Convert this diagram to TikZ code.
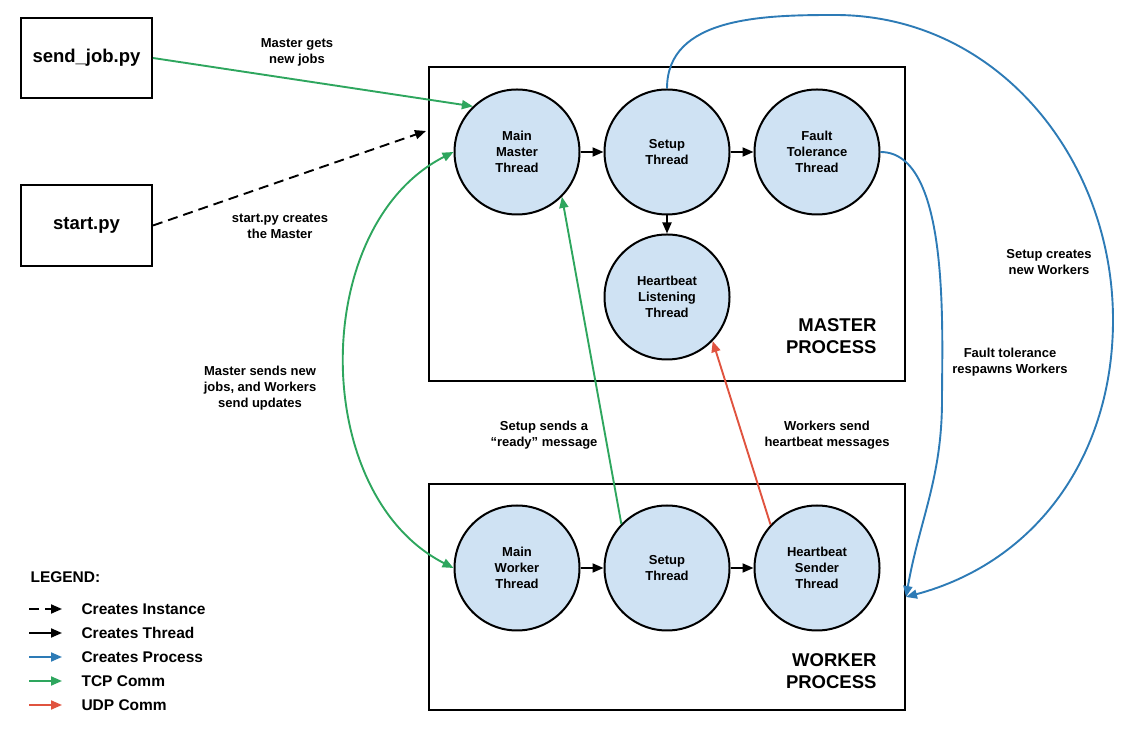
\documentclass[tikz,border=0pt]{standalone}
\usepackage{fontspec}
\setmainfont{Liberation Sans}
\usetikzlibrary{arrows.meta,positioning}
\definecolor{tcpgreen}{RGB}{46,166,94}
\definecolor{procblue}{RGB}{45,123,182}
\definecolor{udpred}{RGB}{224,83,63}
\definecolor{threadfill}{RGB}{207,226,243}

\begin{document}
\begin{tikzpicture}[x=1pt,y=1pt,on grid,node distance=150pt,
  >={Triangle[length=11pt,width=9pt]},
  thread/.style={circle,draw,line width=2pt,fill=threadfill,minimum size=125pt,inner sep=0pt,align=center,font=\bfseries\fontsize{13}{16}\selectfont},
  pybox/.style={rectangle,draw,line width=2pt,minimum width=131pt,minimum height=80pt,font=\bfseries\fontsize{18.5}{22}\selectfont},
  procbox/.style={rectangle,draw,line width=2pt,minimum width=476pt},
  proclbl/.style={anchor=east,align=right,font=\bfseries\fontsize{18.5}{22}\selectfont},
  lbl/.style={align=center,font=\bfseries\fontsize{13}{16}\selectfont},
  leg/.style={anchor=west,font=\bfseries\fontsize{15.5}{18}\selectfont},
  thr/.style={->,line width=1.9pt,black},
  inst/.style={thr,dash pattern=on 10pt off 6pt},
  proc/.style={->,line width=1.9pt,procblue},
  tcp/.style={->,line width=1.9pt,tcpgreen},
  udp/.style={->,line width=1.9pt,udpred}]
\useasboundingbox (0,0) rectangle (1138,733);

% scripts and processes
\node[pybox] (sendjob) at (86.5,675) {send\_job.py};
\node[pybox,minimum height=81pt] (startpy) at (86.5,507.5) {start.py};
\node[procbox,minimum height=314pt] (master) at (667,509) {};
\node[procbox,minimum height=226pt] (worker) at (667,136) {};
\node[proclbl] (mlabel) at (880,397) {MASTER\\PROCESS};
\node[proclbl] (wlabel) at (880,62) {WORKER\\PROCESS};

% threads
\node[thread] (mmain) at (517,581) {Main\\Master\\Thread};
\node[thread] (msetup) [right=of mmain] {Setup\\Thread};
\node[thread] (mfault) [right=of msetup] {Fault\\Tolerance\\Thread};
\node[thread] (mlisten) [below=145pt of msetup] {Heartbeat\\Listening\\Thread};
\node[thread] (wmain) at (517,165) {Main\\Worker\\Thread};
\node[thread] (wsetup) [right=of wmain] {Setup\\Thread};
\node[thread] (wsender) [right=of wsetup] {Heartbeat\\Sender\\Thread};

% labels
\node[lbl] (ljobs) at (297,681) {Master gets\\new jobs};
\node[lbl] (lstart) at (280,507) {start.py creates\\the Master};
\node[lbl] (lcomm) at (260,345) {Master sends new\\jobs, and Workers\\send updates};
\node[lbl] (lready) at (544,298) {Setup sends a\\“ready” message};
\node[lbl] (lbeat) at (827,298) {Workers send\\heartbeat messages};
\node[lbl] (lspawn) at (1049,471) {Setup creates\\new Workers};
\node[lbl] (lfault) at (1010,371) {Fault tolerance\\respawns Workers};

\coordinate (mentry) at (426,602);
\draw[tcp] (sendjob.east) -- (mmain.134);
\draw[inst] (startpy.east) -- (mentry);
\draw[tcp,<->] (wmain.west) to[out=153,in=207] (mmain.west);
\draw[tcp] (wsetup.136) -- (mmain.-45);
\draw[udp] (wsender.137) -- (mlisten.-44);
\draw[thr] (mmain) -- (msetup);
\draw[thr] (msetup) -- (mfault);
\draw[thr] (msetup) -- (mlisten);
\draw[thr] (wmain) -- (wsetup);
\draw[thr] (wsetup) -- (wsender);
\draw[proc] (msetup.north) to[out=90,in=180] (835,718) to[out=0,in=90] (1113,413) to[out=-90,in=15] (worker.east);
\draw[proc] (mfault.east) to[out=0,in=90,looseness=0.7] (942,333) to[out=-90,in=80] (worker.east);

% legend
\node[leg] (legend) at (27,156) {LEGEND:};
\foreach \sty/\txt [count=\i] in {inst/Creates Instance,thr/Creates Thread,proc/Creates Process,tcp/TCP Comm,udp/UDP Comm}{
  \coordinate (la\i) at (29,148-24*\i);
  \coordinate (lb\i) at (62,148-24*\i);
  \draw[\sty] (la\i) -- (lb\i);
  \node[leg] (lt\i) at (78,148-24*\i) {\txt};
}
\end{tikzpicture}
\end{document}
